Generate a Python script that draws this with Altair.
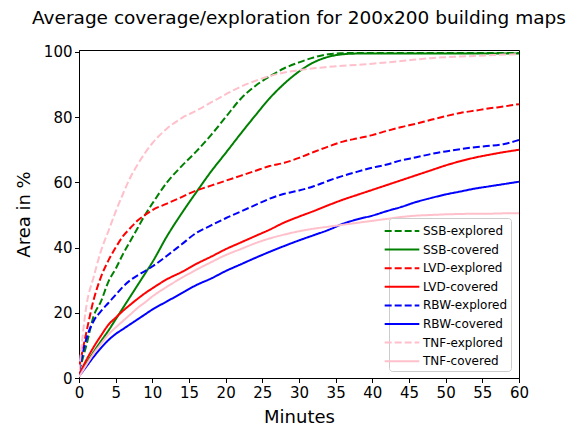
import altair as alt
import pandas as pd

minutes = [0, 1, 2, 3, 4, 5, 6, 7, 8, 9, 10,
           12, 14, 16, 18, 20, 22, 24, 26, 28, 30, 32, 34, 36, 38,
           40, 42, 44, 46, 48, 50, 52, 54, 56, 58, 60]

series_names = ["SSB-explored", "SSB-covered", "LVD-explored", "LVD-covered",
                "RBW-explored", "RBW-covered", "TNF-explored", "TNF-covered"]

ssb_explored = [2, 10, 19, 23.5, 29.5, 33.5, 38, 42, 46, 50, 53.5,
                60, 65, 69.5, 74.5, 80, 85.5, 89.5, 92.5, 95, 96.8, 98.3, 99.3, 99.6, 99.7,
                99.7, 99.7, 99.7, 99.7, 99.7, 99.7, 99.7, 99.7, 99.7, 99.7, 99.7]
ssb_covered = [1, 4.5, 8, 11.3, 14.5, 18, 21.5, 25, 28.5, 32, 35.5,
               43.5, 50.5, 57, 63.3, 69, 74.8, 80.4, 85.8, 90.3, 94, 96.8, 98.5, 99.3, 99.5,
               99.5, 99.5, 99.5, 99.5, 99.5, 99.5, 99.5, 99.5, 99.5, 99.5, 99.5]
lvd_explored = [3, 14, 24, 31, 36, 40, 43.5, 46, 48.3, 50, 51.5,
                53.5, 55.5, 57.5, 59, 60.5, 62, 63.5, 65, 66, 67.5, 69.3, 71, 72.5, 73.5,
                74.5, 75.8, 77, 78, 79.2, 80.3, 81.3, 82, 82.7, 83.3, 84]
lvd_covered = [1, 5.5, 9.5, 13, 16.3, 18.5, 20.6, 22.5, 24.3, 26, 27.5,
               30.3, 32.5, 35, 37.2, 39.5, 41.5, 43.5, 45.5, 47.7, 49.5, 51.2, 53, 54.7, 56.2,
               57.7, 59.2, 60.7, 62.2, 63.7, 65.2, 66.5, 67.6, 68.5, 69.3, 70]
rbw_explored = [2, 12, 17.5, 20.5, 23, 25.5, 28, 30, 31.5, 32.8, 34.2,
                37.5, 41, 44.5, 46.8, 49, 51, 53, 55, 56.5, 57.5, 58.8, 60.5, 62, 63.3,
                64.5, 65.5, 66.8, 67.7, 68.7, 69.5, 70.2, 70.8, 71.2, 71.8, 73]
rbw_covered = [0.5, 3.5, 6.5, 9.2, 11.6, 13.5, 15, 16.5, 18, 19.5, 21,
               23.5, 26, 28.5, 30.5, 32.8, 34.8, 36.8, 38.7, 40.5, 42.2, 43.8, 45.4, 47.3, 48.7,
               49.8, 51.2, 52.5, 54, 55.2, 56.3, 57.2, 58.1, 58.8, 59.5, 60.2]
tnf_explored = [2, 22, 31, 39, 45, 51, 56.5, 61.5, 65.5, 69, 72,
                76.5, 79.7, 82, 84.5, 87, 89.3, 91.1, 92.6, 93.7, 94.4, 95, 95.4, 95.8, 96,
                96.4, 96.8, 97.2, 97.7, 98.1, 98.4, 98.6, 98.8, 99, 99.2, 99.3]
tnf_covered = [0.3, 4, 7.5, 10.5, 13.3, 15.5, 17.5, 19.5, 21.5, 23.2, 25,
               28, 30.7, 33.2, 35.5, 37.7, 39.5, 41.3, 42.8, 44, 45, 45.8, 46.4, 47, 47.6,
               48.2, 48.8, 49.4, 49.8, 50, 50.2, 50.3, 50.4, 50.4, 50.5, 50.5]

all_values = [ssb_explored, ssb_covered, lvd_explored, lvd_covered,
              rbw_explored, rbw_covered, tnf_explored, tnf_covered]

colors = ["#008000", "#008000", "#ff0000", "#ff0000",
          "#0000ff", "#0000ff", "#ffc0cb", "#ffc0cb"]
dashes = [[7, 3], [1, 0], [7, 3], [1, 0], [7, 3], [1, 0], [7, 3], [1, 0]]

rows = []
for name, vals in zip(series_names, all_values):
    for m, v in zip(minutes, vals):
        rows.append({"Minutes": m, "Area": v, "series": name})
df = pd.DataFrame(rows)

legend = alt.Legend(title=None, orient="none", legendX=310, legendY=168)

chart = alt.Chart(df).mark_line(strokeWidth=2, interpolate="monotone", clip=True).encode(
    x=alt.X("Minutes:Q",
            scale=alt.Scale(domain=[0, 60], nice=False),
            axis=alt.Axis(values=list(range(0, 61, 5)), title="Minutes", titlePadding=8,
                          labelFlush=False)),
    y=alt.Y("Area:Q",
            scale=alt.Scale(domain=[0, 100.6], nice=False),
            axis=alt.Axis(values=[0, 20, 40, 60, 80, 100], title="Area in %", titlePadding=10,
                          labelFlush=False)),
    color=alt.Color("series:N", sort=series_names,
                    scale=alt.Scale(domain=series_names, range=colors), legend=legend),
    strokeDash=alt.StrokeDash("series:N", sort=series_names,
                              scale=alt.Scale(domain=series_names, range=dashes), legend=legend),
).properties(
    width=440,
    height=328,
    title=alt.TitleParams("Average coverage/exploration for 200x200 building maps",
                          fontSize=18.5, fontWeight="normal", font="DejaVu Sans",
                          anchor="middle", frame="group",
                          offset=17, color="black"),
    padding={"left": 71, "top": 42, "right": 48, "bottom": 47},
    autosize=alt.AutoSizeParams(type="none"),
).configure(
    font="DejaVu Sans"
).configure_view(
    stroke="black", strokeWidth=1
).configure_axis(
    labelFontSize=15, titleFontSize=18, titleFontWeight="normal",
    labelColor="black", titleColor="black", tickColor="black", domainColor="black",
    tickSize=4.5, labelPadding=2.5, grid=False, tickWidth=1, domainWidth=1,
    labelFont="DejaVu Sans", titleFont="DejaVu Sans"
).configure_legend(
    symbolType="M-2,0H2", symbolSize=300, symbolStrokeWidth=2,
    labelFontSize=12, labelFont="DejaVu Sans", labelColor="black",
    labelOffset=11, padding=3, rowPadding=2.6,
    fillColor="rgba(255,255,255,0.8)", strokeColor="#cccccc", cornerRadius=3
)

chart.save("out.html", embed_options={"renderer": "svg", "actions": False})
